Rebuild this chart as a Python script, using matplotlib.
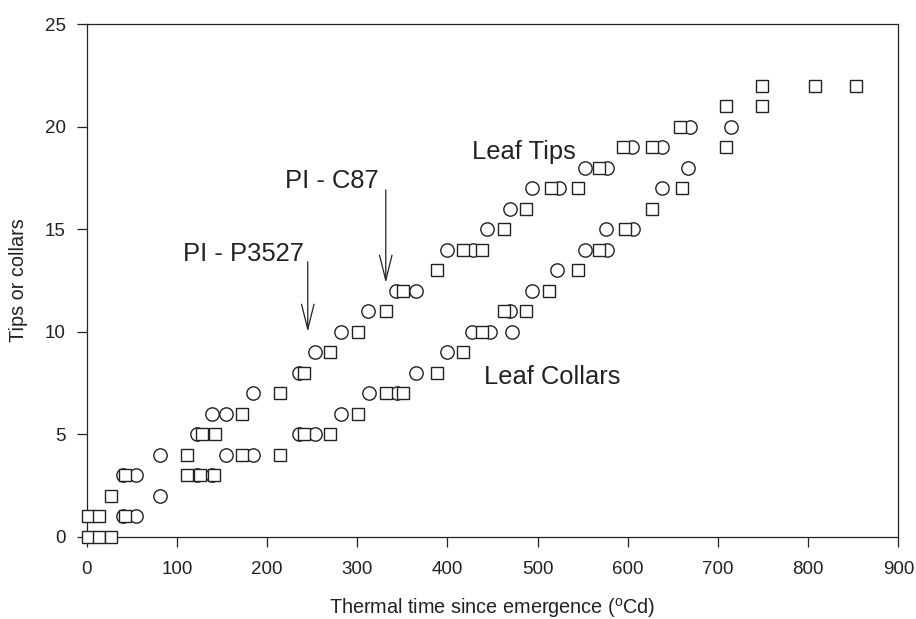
import matplotlib
matplotlib.use("Agg")
import matplotlib.pyplot as plt

plt.rcParams['font.family'] = ['Liberation Sans', 'DejaVu Sans']
plt.rcParams['mathtext.fontset'] = 'custom'
plt.rcParams['mathtext.rm'] = 'Liberation Sans'

# circles - leaf tips
circ_tips_x = [39.9, 54.7, 81.3, 122, 138.6, 154.1, 184.1, 235.4, 253.2, 281.7, 312.3,
               343, 364.8, 399.9, 428.7, 444.2, 469.4, 494, 524, 552.6, 576.6, 605,
               637.6, 669, 714.1]
circ_tips_y = [3, 3, 4, 5, 6, 6, 7, 8, 9, 10, 11,
               12, 12, 14, 14, 15, 16, 17, 17, 18, 18, 19,
               19, 20, 20]

# circles - leaf collars
circ_coll_x = [40.6, 54.7, 81.3, 122, 138.6, 154.5, 184.8, 235.4, 253.2, 281.7, 313.1,
               343.8, 364.8, 399.9, 426.9, 447.2, 471.3, 469.4, 494, 521.8, 552.6,
               576.6, 575.5, 606.1, 637.6, 667.1]
circ_coll_y = [1, 1, 2, 3, 3, 4, 4, 5, 5, 6, 7,
               7, 8, 9, 10, 10, 10, 11, 12, 13, 14,
               14, 15, 15, 17, 18]

# squares - leaf tips
sq_tips_x = [1.8, 14, 26.6, 42.5, 110.9, 127.5, 142.3, 171.9, 214.4, 241.3, 269.8,
             301.2, 331.6, 351.1, 388.1, 416.9, 438.7, 463, 486.6, 514.5, 544.5,
             568.1, 595, 626.5, 657.9, 708.9, 748.5, 807.6, 852.7]
sq_tips_y = [1, 1, 2, 3, 4, 5, 5, 6, 7, 8, 9,
             10, 11, 12, 13, 14, 14, 15, 16, 17, 17,
             18, 19, 19, 20, 21, 22, 22, 22]

# squares - leaf collars
sq_coll_x = [1.8, 14, 26.6, 42.5, 110.9, 125.7, 141.2, 171.9, 214.4, 241.3, 269.8,
             301.2, 331.9, 351.1, 388.1, 416.9, 438, 462.4, 486.6, 512.9, 544.5,
             568.1, 596.9, 626.5, 659.8, 708.9, 748.5]
sq_coll_y = [0, 0, 0, 1, 3, 3, 3, 4, 4, 5, 5,
             6, 7, 7, 8, 9, 10, 11, 11, 12, 13,
             14, 15, 16, 17, 19, 21]

x_ticks = [0, 100, 200, 300, 400, 500, 600, 700, 800, 900]
y_ticks = [0, 5, 10, 15, 20, 25]

ink = '#222222'

fig = plt.figure(figsize=(9.16, 6.19), dpi=100)
ax = fig.add_axes([0.0947, 0.1330, 0.8860, 0.8282])

mk = dict(linestyle='none', markerfacecolor='white', markeredgecolor=ink,
          markeredgewidth=1.0, clip_on=False)
ax.plot(circ_tips_x, circ_tips_y, marker='o', markersize=9.6, zorder=3, **mk)
ax.plot(circ_coll_x, circ_coll_y, marker='o', markersize=9.6, zorder=3, **mk)
ax.plot(sq_tips_x, sq_tips_y, marker='s', markersize=8.4, zorder=4, **mk)
ax.plot(sq_coll_x, sq_coll_y, marker='s', markersize=8.4, zorder=4, **mk)

ax.set_xlim(0, 900)
ax.set_ylim(0, 25)
ax.set_xticks(x_ticks)
ax.set_yticks(y_ticks)
ax.tick_params(direction='out', length=7.2, width=0.9, colors=ink,
               labelsize=13.5, pad=10)
ax.tick_params(axis='y', pad=8)
for s in ax.spines.values():
    s.set_color(ink)
    s.set_linewidth(0.9)

ax.set_xlabel(r'Thermal time since emergence ($^{\mathrm{o}}$Cd)', fontsize=14.3,
              color=ink, labelpad=13)
ax.set_ylabel('Tips or collars', fontsize=14.3, color=ink, labelpad=12)

# annotations
txt = dict(fontsize=18.4, color=ink, ha='left', va='baseline')
ax.text(106.8, 13.45, 'PI - P3527', **txt)
ax.text(219.9, 17.0, 'PI - C87', **txt)
ax.text(426.9, 18.4, 'Leaf Tips', **txt)
ax.text(440.6, 7.45, 'Leaf Collars', **txt)

arrow = dict(arrowstyle='->,head_length=1.8,head_width=0.45', lw=0.9,
             color=ink, shrinkA=0, shrinkB=0, mutation_scale=10)
ax.annotate('', xy=(245.1, 9.99), xytext=(245.1, 13.4), arrowprops=arrow)
ax.annotate('', xy=(331.6, 12.38), xytext=(331.6, 16.91), arrowprops=arrow)

fig.savefig('out.png', dpi=100)
